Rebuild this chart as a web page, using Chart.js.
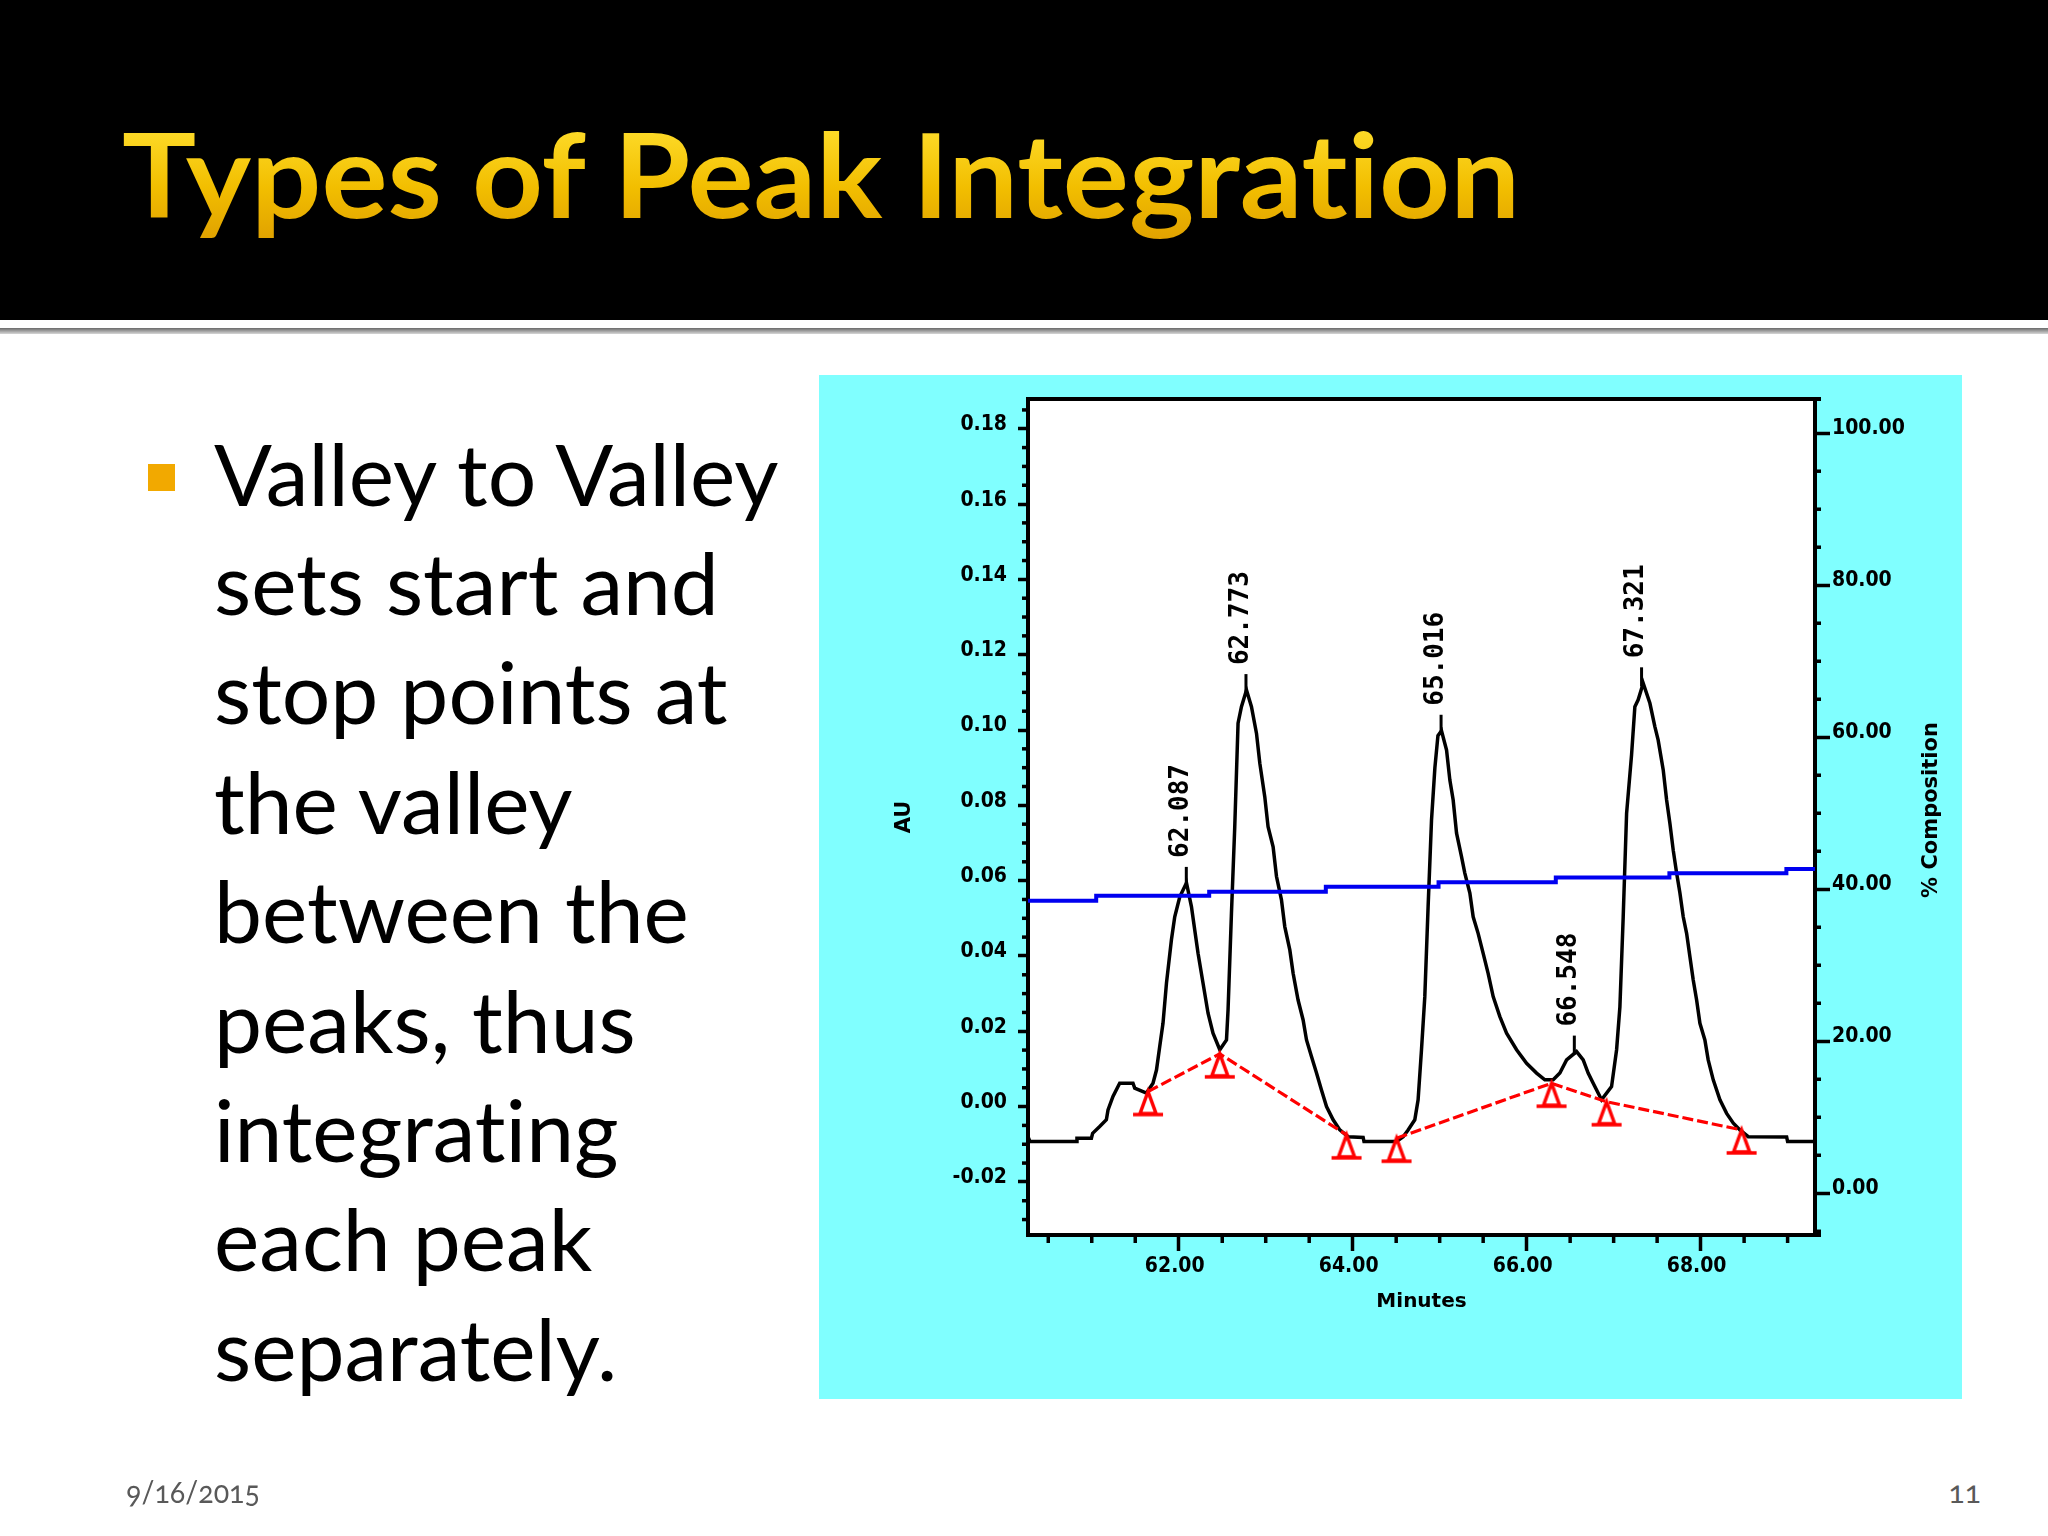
<!DOCTYPE html>
<html><head><meta charset="utf-8">
<script src="https://cdn.jsdelivr.net/npm/chart.js@4.4.1/dist/chart.umd.min.js"></script>
<style>
html,body{margin:0;padding:0;width:2048px;height:1536px;overflow:hidden;background:#fff;}
#header{position:absolute;left:0;top:0;width:2048px;height:320px;background:#000;}
#rule{position:absolute;left:0;top:328px;width:2048px;height:6px;background:linear-gradient(#6a6a6a,#d6d6d6);}
.txt{position:absolute;white-space:nowrap;transform-origin:0 0;line-height:1.2;font-variant-ligatures:none;font-feature-settings:"liga" 0,"clig" 0;}
#title{font-family:Lato,sans-serif;font-weight:700;font-size:116px;background:linear-gradient(#FFE030 10%,#F2BE00 60%,#DFA000);-webkit-background-clip:text;background-clip:text;color:transparent;}
.body{font-family:Lato,sans-serif;font-size:86px;color:#000;}
#bullet{position:absolute;left:148px;top:464px;width:27px;height:27px;background:#F2A900;}
.foot{font-family:Lato,sans-serif;font-size:30px;color:#595959;font-variant-numeric:oldstyle-nums;}
#panel{position:absolute;left:819px;top:375px;width:1143px;height:1024px;background:#80FFFF;}
#chart{position:absolute;left:0;top:0;width:1143px;height:1024px;}
</style></head>
<body>
<div id="header"></div>
<div id="rule"></div>
<div id="title" class="txt">Types of Peak Integration</div>
<div id="bullet"></div>
<div id="lines"></div>
<div id="date" class="txt foot">9/16/2015</div>
<div id="page" class="txt foot">11</div>
<div id="panel"><canvas id="chart" width="1143" height="1024"></canvas></div>
<script>
// ---------------- data ----------------
const traceTime = [60.267, 60.290, 60.823, 60.830, 60.996, 61.010, 61.091, 61.168, 61.187, 61.244, 61.321, 61.474, 61.494, 61.629, 61.704, 61.744, 61.781, 61.819, 61.859, 61.916, 61.954, 62.012, 62.089, 62.146, 62.184, 62.222, 62.279, 62.337, 62.394, 62.472, 62.549, 62.567, 62.606, 62.644, 62.682, 62.721, 62.779, 62.836, 62.894, 62.932, 62.989, 63.027, 63.085, 63.124, 63.181, 63.219, 63.277, 63.315, 63.372, 63.430, 63.469, 63.526, 63.584, 63.641, 63.699, 63.775, 63.852, 63.947, 64.120, 64.130, 64.504, 64.580, 64.637, 64.714, 64.752, 64.791, 64.829, 64.867, 64.906, 64.945, 64.980, 65.021, 65.079, 65.117, 65.155, 65.194, 65.251, 65.289, 65.347, 65.385, 65.442, 65.500, 65.557, 65.615, 65.692, 65.769, 65.884, 65.999, 66.114, 66.209, 66.305, 66.382, 66.459, 66.574, 66.650, 66.707, 66.765, 66.861, 66.976, 67.034, 67.072, 67.110, 67.149, 67.206, 67.244, 67.282, 67.340, 67.417, 67.474, 67.512, 67.570, 67.609, 67.647, 67.685, 67.724, 67.762, 67.800, 67.839, 67.877, 67.915, 67.954, 67.992, 68.049, 68.087, 68.145, 68.222, 68.299, 68.376, 68.452, 68.547, 68.989, 69.000, 69.315];
const traceAU = [-0.0080, -0.0093, -0.0093, -0.0084, -0.0084, -0.0071, -0.0053, -0.0035, -0.0009, 0.0027, 0.0062, 0.0062, 0.0049, 0.0036, 0.0062, 0.0097, 0.0159, 0.0221, 0.0328, 0.0443, 0.0504, 0.0557, 0.0594, 0.0531, 0.0469, 0.0407, 0.0328, 0.0248, 0.0195, 0.0151, 0.0177, 0.0257, 0.0513, 0.0743, 0.1018, 0.1062, 0.1106, 0.1062, 0.0991, 0.0912, 0.0823, 0.0743, 0.0690, 0.0611, 0.0549, 0.0478, 0.0416, 0.0354, 0.0283, 0.0230, 0.0177, 0.0133, 0.0089, 0.0044, 0.0000, -0.0035, -0.0062, -0.0080, -0.0082, -0.0093, -0.0093, -0.0080, -0.0062, -0.0035, 0.0018, 0.0151, 0.0292, 0.0531, 0.0760, 0.0900, 0.0985, 0.0998, 0.0947, 0.0867, 0.0814, 0.0726, 0.0664, 0.0620, 0.0567, 0.0504, 0.0460, 0.0407, 0.0354, 0.0292, 0.0239, 0.0195, 0.0151, 0.0115, 0.0089, 0.0071, 0.0071, 0.0089, 0.0124, 0.0146, 0.0124, 0.0089, 0.0062, 0.0018, 0.0053, 0.0151, 0.0265, 0.0504, 0.0779, 0.0934, 0.1062, 0.1080, 0.1124, 0.1071, 0.1009, 0.0973, 0.0894, 0.0814, 0.0752, 0.0681, 0.0620, 0.0567, 0.0504, 0.0460, 0.0398, 0.0336, 0.0283, 0.0221, 0.0177, 0.0124, 0.0071, 0.0018, -0.0018, -0.0044, -0.0062, -0.0080, -0.0081, -0.0093, -0.0093];

const gradTime = [60.267, 61.051, 62.350, 63.691, 64.987, 66.335, 67.641, 68.986, 69.315];
const gradPct  = [38.50, 39.16, 39.68, 40.34, 40.92, 41.53, 42.11, 42.67, 42.67];

const baseTime = [61.647, 62.472, 63.929, 64.200, 64.504, 66.286, 66.919, 68.471];
const baseAU   = [0.0040, 0.0140, -0.0075, null, -0.0084, 0.0062, 0.0013, -0.0062];

const peakTimes = [62.087, 62.773, 65.016, 66.548, 67.321];
const peakAU    = [0.0594, 0.1106, 0.0998, 0.0146, 0.1124];

const xTickValues  = [62, 64, 66, 68];
const xTickLabels  = ['62.00', '64.00', '66.00', '68.00'];
const auTickValues = [-0.02, 0.00, 0.02, 0.04, 0.06, 0.08, 0.10, 0.12, 0.14, 0.16, 0.18];
const auTickLabels = ['-0.02', '0.00', '0.02', '0.04', '0.06', '0.08', '0.10', '0.12', '0.14', '0.16', '0.18'];
const pctTickValues = [0, 20, 40, 60, 80, 100];
const pctTickLabels = ['0.00', '20.00', '40.00', '60.00', '80.00', '100.00'];

const bodyLines = ['Valley to Valley', 'sets start and', 'stop points at', 'the valley', 'between the', 'peaks, thus', 'integrating', 'each peak', 'separately.'];

// ---------------- slide text placement ----------------
function measure(el){
  const mk = document.createElement('span');
  mk.style.cssText = 'display:inline-block;width:0;height:0;vertical-align:baseline;';
  el.appendChild(mk);
  el.style.left = '0px'; el.style.top = '0px'; el.style.transform = 'none';
  const r = el.getBoundingClientRect(), m = mk.getBoundingClientRect();
  return {w: r.width, base: m.top - r.top};
}
function put(el, x, baseline, s, alignRight){
  const mm = measure(el);
  const left = alignRight ? x - mm.w * s : x;
  el.style.left = left + 'px';
  el.style.top = (baseline - mm.base) + 'px';
  el.style.transform = 'scaleX(' + s + ')';
}
(function(){
  const t = document.getElementById('title');
  const tw = measure(t).w;
  put(t, 122, 218, 1398 / tw, false);

  const holder = document.getElementById('lines');
  const targets = [570, 499, 509, 359, 466, 422, 415, 375, 409];
  const els = bodyLines.map(s => { const d = document.createElement('div'); d.className = 'txt body'; d.textContent = s; holder.appendChild(d); return d; });
  let sumN = 0, sumT = 0;
  els.forEach((d, i) => { sumN += measure(d).w; sumT += targets[i]; });
  const sc = sumT / sumN;
  els.forEach((d, i) => put(d, 214, 505.5 + i * 109.4, sc, false));

  const dt = document.getElementById('date');
  put(dt, 126, 1503, 134 / measure(dt).w, false);
  put(document.getElementById('page'), 1981, 1503, 1, true);
})();

// ---------------- chart ----------------
const markerImg = (function(){
  const c = document.createElement('canvas'); c.width = 34; c.height = 58;
  const g = c.getContext('2d');
  g.strokeStyle = '#ff0000'; g.lineWidth = 3.5; g.lineJoin = 'miter';
  g.beginPath(); g.moveTo(17, 29); g.lineTo(9, 51); g.lineTo(25, 51); g.closePath(); g.stroke();
  g.beginPath(); g.moveTo(2, 52); g.lineTo(32, 52); g.stroke();
  return c;
})();

function labelFrom(values, labels){
  return function(v){
    const i = values.findIndex(t => Math.abs(t - v) < 1e-9);
    return i >= 0 ? labels[i] : '';
  };
}
const tickFont = {family: '"DejaVu Sans Condensed", "DejaVu Sans Mono", sans-serif', weight: 'bold', size: 21};
const titleFont = {family: '"DejaVu Sans", sans-serif', weight: 'bold', size: 20};

const framePlugin = {
  id: 'frame',
  beforeDraw(chart){
    const {ctx, chartArea: a} = chart;
    ctx.save();
    ctx.fillStyle = '#80FFFF'; ctx.fillRect(0, 0, chart.width, chart.height);
    ctx.fillStyle = '#ffffff'; ctx.fillRect(a.left, a.top, a.right - a.left, a.bottom - a.top);
    ctx.restore();
  },
  afterDraw(chart){
    const {ctx, chartArea: a, scales} = chart;
    const x = scales.x, y = scales.y, y1 = scales.y1;
    ctx.save();
    ctx.strokeStyle = '#000'; ctx.lineCap = 'butt';
    ctx.lineWidth = 4;
    ctx.beginPath(); ctx.moveTo(a.left - 2, a.top); ctx.lineTo(a.right + 6, a.top); ctx.stroke();
    ctx.beginPath(); ctx.moveTo(a.right - 2, a.bottom); ctx.lineTo(a.right + 6, a.bottom); ctx.stroke();
    ctx.lineWidth = 3.5;
    const seg = (x1, y1_, x2, y2) => { ctx.beginPath(); ctx.moveTo(x1, y1_); ctx.lineTo(x2, y2); ctx.stroke(); };
    // minor ticks, x every 0.5 min
    for (let k = 121; k <= 138; k++) {
      const v = k / 2; if (k % 4 === 0) continue;
      const px = x.getPixelForValue(v); seg(px, a.bottom, px, a.bottom + 8);
    }
    // minor ticks, AU every 0.005
    for (let k = -6; k <= 37; k++) {
      if (k % 4 === 0) continue;
      const py = y.getPixelForValue(k * 0.005);
      if (py < a.top + 2 || py > a.bottom - 2) continue;
      seg(a.left - 6, py, a.left, py);
    }
    // minor ticks, % every 5
    for (let k = -1; k <= 21; k++) {
      if (k % 4 === 0) continue;
      const py = y1.getPixelForValue(k * 5);
      if (py < a.top + 2 || py > a.bottom - 2) continue;
      seg(a.right, py, a.right + 6, py);
    }
    // right axis title (reads bottom to top)
    ctx.fillStyle = '#000';
    ctx.font = 'bold 21px "DejaVu Sans", sans-serif';
    ctx.translate(1113, 435); ctx.rotate(-Math.PI / 2);
    ctx.textAlign = 'center'; ctx.textBaseline = 'middle';
    ctx.fillText('% Composition', 0, 0);
    ctx.restore();
  }
};

const peakPlugin = {
  id: 'peaks',
  afterDatasetsDraw(chart){
    const {ctx, scales: {x, y}} = chart;
    ctx.save();
    ctx.strokeStyle = '#000'; ctx.fillStyle = '#000'; ctx.lineWidth = 3;
    ctx.font = 'bold 26px "DejaVu Sans Mono", monospace';
    peakTimes.forEach((t, i) => {
      const px = x.getPixelForValue(t), py = y.getPixelForValue(peakAU[i]);
      ctx.beginPath(); ctx.moveTo(px, py + 3); ctx.lineTo(px, py - 16); ctx.stroke();
      ctx.save();
      ctx.translate(px - 5, py - 25); ctx.rotate(-Math.PI / 2);
      ctx.textAlign = 'left'; ctx.textBaseline = 'middle';
      ctx.fillText(t.toFixed(3), 0, 0);
      ctx.restore();
    });
    ctx.restore();
  }
};

new Chart(document.getElementById('chart'), {
  type: 'line',
  data: {
    datasets: [
      { label: 'AU', data: traceTime.map((t, i) => ({x: t, y: traceAU[i]})), yAxisID: 'y',
        borderColor: '#000000', borderWidth: 3.5, pointRadius: 0, tension: 0, fill: false, order: 3 },
      { label: 'Baseline', data: baseTime.map((t, i) => ({x: t, y: baseAU[i]})), yAxisID: 'y',
        borderColor: '#ff0000', borderWidth: 3.2, borderDash: [11, 4], pointStyle: markerImg, pointRadius: 6,
        spanGaps: false, fill: false, order: 2 },
      { label: '% Composition', data: gradTime.map((t, i) => ({x: t, y: gradPct[i]})), yAxisID: 'y1',
        borderColor: '#0000f0', borderWidth: 4, stepped: true, pointRadius: 0, fill: false, order: 1 }
    ]
  },
  options: {
    responsive: false, maintainAspectRatio: false, devicePixelRatio: 1, animation: false,
    events: [],
    layout: {padding: {top: 24, left: 0, right: 0, bottom: 0}},
    plugins: {legend: {display: false}, tooltip: {enabled: false}},
    scales: {
      x: {
        type: 'linear', position: 'bottom', min: 60.267, max: 69.315,
        afterFit: s => { s.height = 164; },
        afterBuildTicks: s => { s.ticks = xTickValues.map(v => ({value: v})); },
        ticks: {callback: labelFrom(xTickValues, xTickLabels), font: tickFont, color: '#000', padding: 3,
          labelOffset: -4, maxRotation: 0, minRotation: 0, autoSkip: false},
        grid: {display: true, drawOnChartArea: false, drawTicks: true, tickLength: 16, tickWidth: 3.5, tickColor: '#000'},
        border: {display: true, color: '#000', width: 4},
        title: {display: true, text: 'Minutes', font: titleFont, color: '#000', padding: {top: 0, bottom: 85}}
      },
      y: {
        type: 'linear', position: 'left', min: -0.0341, max: 0.1879,
        afterFit: s => { s.width = 209; },
        afterBuildTicks: s => { s.ticks = auTickValues.map(v => ({value: v})); },
        ticks: {callback: labelFrom(auTickValues, auTickLabels), font: tickFont, color: '#000', padding: 11,
          labelOffset: -4, autoSkip: false},
        grid: {display: true, drawOnChartArea: false, drawTicks: true, tickLength: 10, tickWidth: 3.5, tickColor: '#000'},
        border: {display: true, color: '#000', width: 4},
        title: {display: true, text: 'AU', font: {family: '"DejaVu Sans", sans-serif', weight: 'bold', size: 21}, color: '#000', padding: {top: 73, bottom: 0}}
      },
      y1: {
        type: 'linear', position: 'right', min: -5.49, max: 104.5,
        afterFit: s => { s.width = 147; },
        afterBuildTicks: s => { s.ticks = pctTickValues.map(v => ({value: v})); },
        ticks: {callback: labelFrom(pctTickValues, pctTickLabels), font: tickFont, color: '#000', padding: 2,
          labelOffset: -5, autoSkip: false},
        grid: {display: true, drawOnChartArea: false, drawTicks: true, tickLength: 15, tickWidth: 3.5, tickColor: '#000'},
        border: {display: true, color: '#000', width: 4}
      }
    }
  },
  plugins: [framePlugin, peakPlugin]
});
</script>
</body></html>
